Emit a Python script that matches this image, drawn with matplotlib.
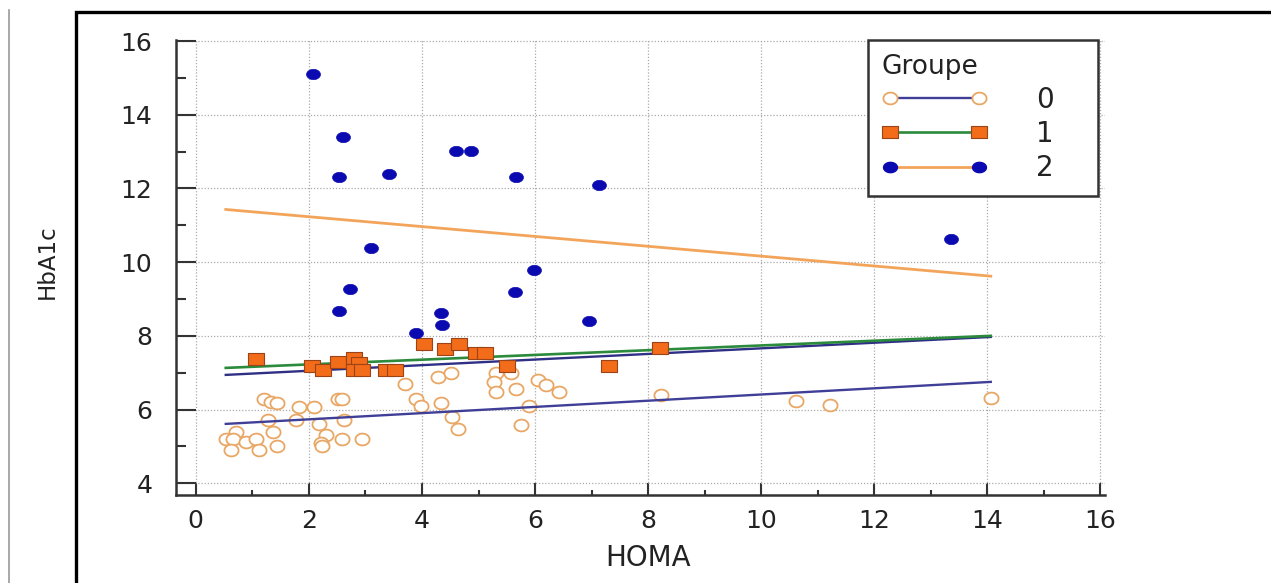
import numpy as np
import matplotlib.pyplot as plt
from matplotlib.path import Path
from matplotlib.lines import Line2D
from matplotlib.patches import Rectangle
from matplotlib.ticker import MultipleLocator

plt.rcParams['font.family'] = ['DejaVu Sans']

# group 0 (open circles)
g0_x = [1.21, 1.33, 1.44, 1.83, 2.09, 2.51, 2.59, 1.27, 1.77, 2.18, 2.62, 0.71, 0.53,
        0.65, 0.88, 1.07, 1.37, 0.62, 1.12, 1.44, 2.30, 2.21, 2.23, 2.59, 2.94, 3.70,
        3.90, 3.98, 4.28, 4.51, 4.34, 4.53, 4.63, 5.31, 5.58, 5.28, 5.31, 5.67, 6.05,
        6.19, 6.43, 5.90, 5.75, 8.23, 10.61, 11.21, 14.06]
g0_y = [6.29, 6.20, 6.18, 6.06, 6.06, 6.29, 6.29, 5.71, 5.71, 5.60, 5.71, 5.39, 5.21,
        5.20, 5.11, 5.21, 5.39, 4.91, 4.91, 5.00, 5.30, 5.09, 5.00, 5.21, 5.21, 6.69,
        6.29, 6.09, 6.89, 6.98, 6.19, 5.80, 5.48, 6.98, 6.98, 6.76, 6.47, 6.57, 6.81,
        6.67, 6.47, 6.09, 5.57, 6.40, 6.22, 6.11, 6.31]

# group 1 (squares)
g1_x = [1.06, 2.06, 2.25, 2.52, 2.80, 2.89, 2.80, 2.94, 3.36, 3.53, 4.04, 4.41, 4.66,
        4.95, 5.12, 5.51, 7.30, 8.21]
g1_y = [7.37, 7.19, 7.08, 7.30, 7.39, 7.25, 7.08, 7.08, 7.08, 7.06, 7.77, 7.65, 7.77,
        7.54, 7.54, 7.17, 7.17, 7.68]

# group 2 (dots)
g2_x = [2.07, 2.61, 2.54, 3.42, 4.60, 4.86, 5.66, 7.13, 3.09, 2.73, 2.53, 4.33, 4.35,
        3.89, 5.64, 5.98, 6.96, 13.36]
g2_y = [15.11, 13.40, 12.30, 12.40, 13.01, 13.01, 12.30, 12.10, 10.39, 9.28, 8.68, 8.61,
        8.29, 8.09, 9.19, 9.78, 8.40, 10.62]

# regression lines (end points)
line_x = [0.53, 14.06]
g0_line = [5.61, 6.75]
g1_line = [7.13, 8.00]
g2_line = [11.43, 9.62]
all_line = [6.94, 7.97]

groups = ['0', '1', '2']

# picture is stretched horizontally, so markers are slightly wide
t = np.linspace(0, 2 * np.pi, 64)
ell = Path(np.column_stack([1.2 * np.cos(t), np.sin(t)]), closed=True)
ell2 = Path(np.column_stack([1.35 * np.cos(t), np.sin(t)]), closed=True)
sq = Path([(-1.3, -1), (1.3, -1), (1.3, 1), (-1.3, 1), (-1.3, -1)], closed=True)

c_circ = '#e9a766'
c_sq = '#f26c1a'
c_sq_edge = '#9a4418'
c_dot = '#0a0ab0'
c_l0 = '#3f3f98'
c_l1 = '#2b8a3c'
c_l2 = '#f2a55a'
c_txt = '#222222'

fig = plt.figure(figsize=(12.71, 5.83), dpi=100)
ax = fig.add_axes([176 / 1271, 1 - 495 / 583, (1105 - 176) / 1271, (495 - 40) / 583])

ax.plot(g0_x, g0_y, linestyle='none', marker=ell, markersize=10.2, markerfacecolor='white',
        markeredgecolor=c_circ, markeredgewidth=1.3, zorder=3)
ax.plot(line_x, g0_line, color=c_l0, lw=1.7, zorder=4)
ax.plot(line_x, all_line, color='#2f2f86', lw=1.7, zorder=4)
ax.plot(line_x, g1_line, color=c_l1, lw=1.9, zorder=4)
ax.plot(line_x, g2_line, color=c_l2, lw=2.0, zorder=4)
ax.plot(g1_x, g1_y, linestyle='none', marker=sq, markersize=11.5, markerfacecolor=c_sq,
        markeredgecolor=c_sq_edge, markeredgewidth=0.8, zorder=5)
ax.plot(g2_x, g2_y, linestyle='none', marker=ell2, markersize=10, markerfacecolor=c_dot,
        markeredgecolor=c_dot, markeredgewidth=0.5, zorder=5)

ax.set_xlim(-0.35, 16.08)
ax.set_ylim(3.68, 16.03)
ax.xaxis.set_major_locator(MultipleLocator(2))
ax.xaxis.set_minor_locator(MultipleLocator(1))
ax.yaxis.set_major_locator(MultipleLocator(2))
ax.yaxis.set_minor_locator(MultipleLocator(1))

for s in ['top', 'right']:
    ax.spines[s].set_visible(False)
for s in ['left', 'bottom']:
    ax.spines[s].set_linewidth(1.8)
    ax.spines[s].set_color('#333333')

ax.tick_params(axis='both', which='both', direction='in', color='#333333', width=1.5,
               labelcolor=c_txt)
ax.tick_params(axis='y', which='major', length=14.4, pad=17, labelsize=18)
ax.tick_params(axis='y', which='minor', length=7.2)
ax.tick_params(axis='x', which='major', length=8.6, pad=10, labelsize=18)
ax.tick_params(axis='x', which='minor', length=3.6)

ax.grid(True, which='major', color='#aaaaaa', linestyle=(0, (1, 1.5)), linewidth=0.9)
ax.set_axisbelow(True)

handles = [
    Line2D([0], [0], color=c_l0, lw=1.7, marker=ell, markersize=10.2, markerfacecolor='white',
           markeredgecolor=c_circ, markeredgewidth=1.3),
    Line2D([0], [0], color=c_l1, lw=1.9, marker=sq, markersize=11.5, markerfacecolor=c_sq,
           markeredgecolor=c_sq_edge, markeredgewidth=0.8),
    Line2D([0], [0], color=c_l2, lw=2.0, marker=ell2, markersize=10, markerfacecolor=c_dot,
           markeredgecolor=c_dot),
]
leg = fig.legend(handles, groups, title='Groupe', loc='upper left',
                 bbox_to_anchor=(868 / 1271, 1 - 190 / 583, 230 / 1271, 150 / 583),
                 mode='expand', borderaxespad=0, numpoints=2,
                 fontsize=20, title_fontsize=19, handlelength=3.8, handletextpad=1.75,
                 labelspacing=0.22, borderpad=0.5, alignment='left', fancybox=False,
                 framealpha=1)
leg.get_frame().set_edgecolor('#333333')
leg.get_frame().set_linewidth(1.8)
for txt in leg.get_texts():
    txt.set_color(c_txt)
leg.get_title().set_color(c_txt)

fig.text(47 / 1271, 1 - 262 / 583, 'HbA1c', rotation=90, ha='center', va='center',
         fontsize=16.5, color=c_txt)
fig.text(648 / 1271, 1 - 558 / 583, 'HOMA', ha='center', va='center', fontsize=20, color=c_txt)

# outer frame and the thin line at the left edge
fig.add_artist(Rectangle((76 / 1271, -0.1), 1.2, 1 - 12 / 583 + 0.1, transform=fig.transFigure,
                         fill=False, edgecolor='black', linewidth=2.4))
fig.add_artist(Line2D([9 / 1271, 9 / 1271], [0, 1 - 10 / 583], transform=fig.transFigure,
                      color='#999999', linewidth=1.2))

fig.savefig('out.png', dpi=100)
